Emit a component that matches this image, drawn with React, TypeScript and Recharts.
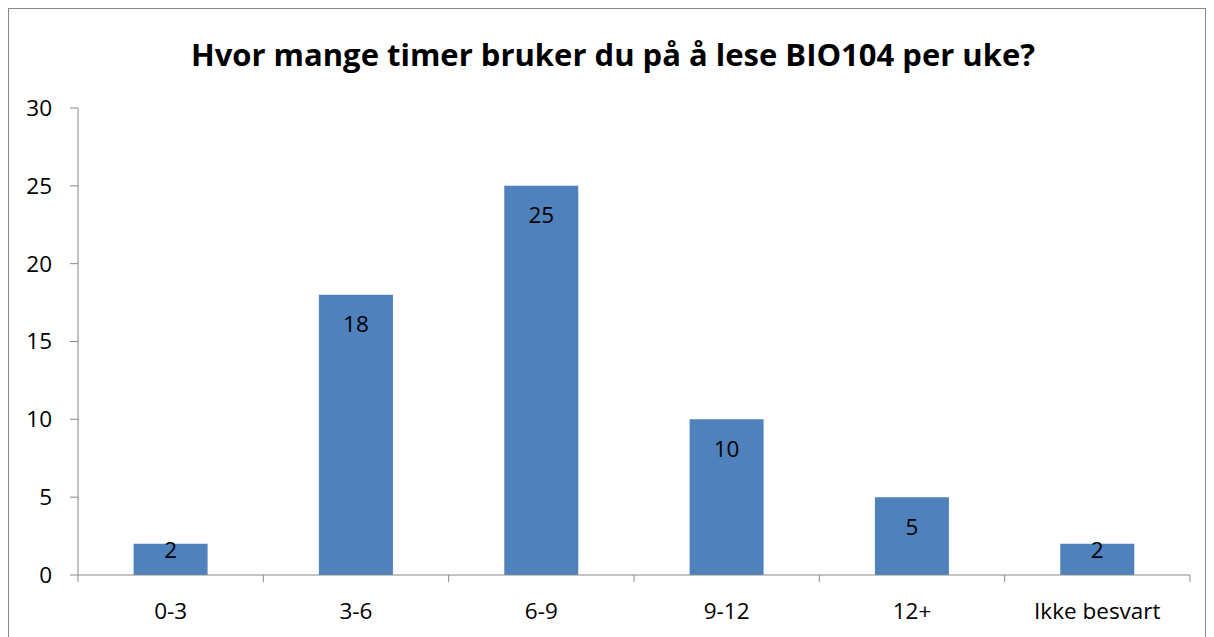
import { BarChart, Bar, XAxis, YAxis, LabelList } from 'recharts'

const categories = ['0-3', '3-6', '6-9', '9-12', '12+', 'Ikke besvart']
const counts = [2, 18, 25, 10, 5, 2]
const yTicks = [0, 5, 10, 15, 20, 25, 30]

const data = categories.map((c, i) => ({ category: c, count: counts[i] }))

const FONT = '"Open Sans", Lato, sans-serif'
const AXIS = '#888888'
const LABEL_SIZE = 22.5

function BarValue(props: any) {
  const { x, y, width, height, value } = props
  const cy = height >= 60 ? y + 29 : y + 6
  return (
    <text
      x={x + width / 2}
      y={cy}
      textAnchor="middle"
      dominantBaseline="central"
      fill="#000"
      fontSize={LABEL_SIZE}
      fontFamily={FONT}
    >
      {value}
    </text>
  )
}

// category label plus tick marks on the band edges
function CategoryTick(props: any) {
  const { x, y, payload, index, visibleTicksCount } = props
  const half = payload?.offset ?? 0
  const last = index === (visibleTicksCount ?? categories.length) - 1
  return (
    <g>
      <line x1={x - half} x2={x - half} y1={y} y2={y + 7} stroke={AXIS} />
      {last && <line x1={x + half} x2={x + half} y1={y} y2={y + 7} stroke={AXIS} />}
      <text
        x={x}
        y={y + 35}
        textAnchor="middle"
        dominantBaseline="central"
        fill="#000"
        fontSize={LABEL_SIZE}
        fontFamily={FONT}
      >
        {payload.value}
      </text>
    </g>
  )
}

export default function App() {
  return (
    <div
      style={{
        position: 'relative',
        width: 1196,
        height: 640,
        border: '1px solid #888',
        background: '#fff',
        fontFamily: FONT,
      }}
    >
      <div
        style={{
          position: 'absolute',
          top: 24,
          left: 12,
          right: 0,
          textAlign: 'center',
          fontWeight: 700,
          fontSize: 31,
          color: '#000',
        }}
      >
        Hvor mange timer bruker du på å lese BIO104 per uke?
      </div>
      <BarChart
        width={1196}
        height={630}
        data={data}
        margin={{ top: 99, right: 15, bottom: 24, left: 9 }}
        barCategoryGap="30%"
      >
        <XAxis
          dataKey="category"
          height={40}
          tickSize={0}
          tickMargin={0}
          axisLine={{ stroke: AXIS }}
          tickLine={false}
          tick={<CategoryTick />}
          interval={0}
        />
        <YAxis
          width={60}
          domain={[0, 30]}
          ticks={yTicks}
          tickSize={8}
          tickMargin={18}
          axisLine={{ stroke: AXIS }}
          tickLine={{ stroke: AXIS }}
          tick={{ fill: '#000', fontSize: LABEL_SIZE, fontFamily: FONT }}
        />
        <Bar dataKey="count" fill="#4F81BD" isAnimationActive={false}>
          <LabelList dataKey="count" content={BarValue} />
        </Bar>
      </BarChart>
    </div>
  )
}
